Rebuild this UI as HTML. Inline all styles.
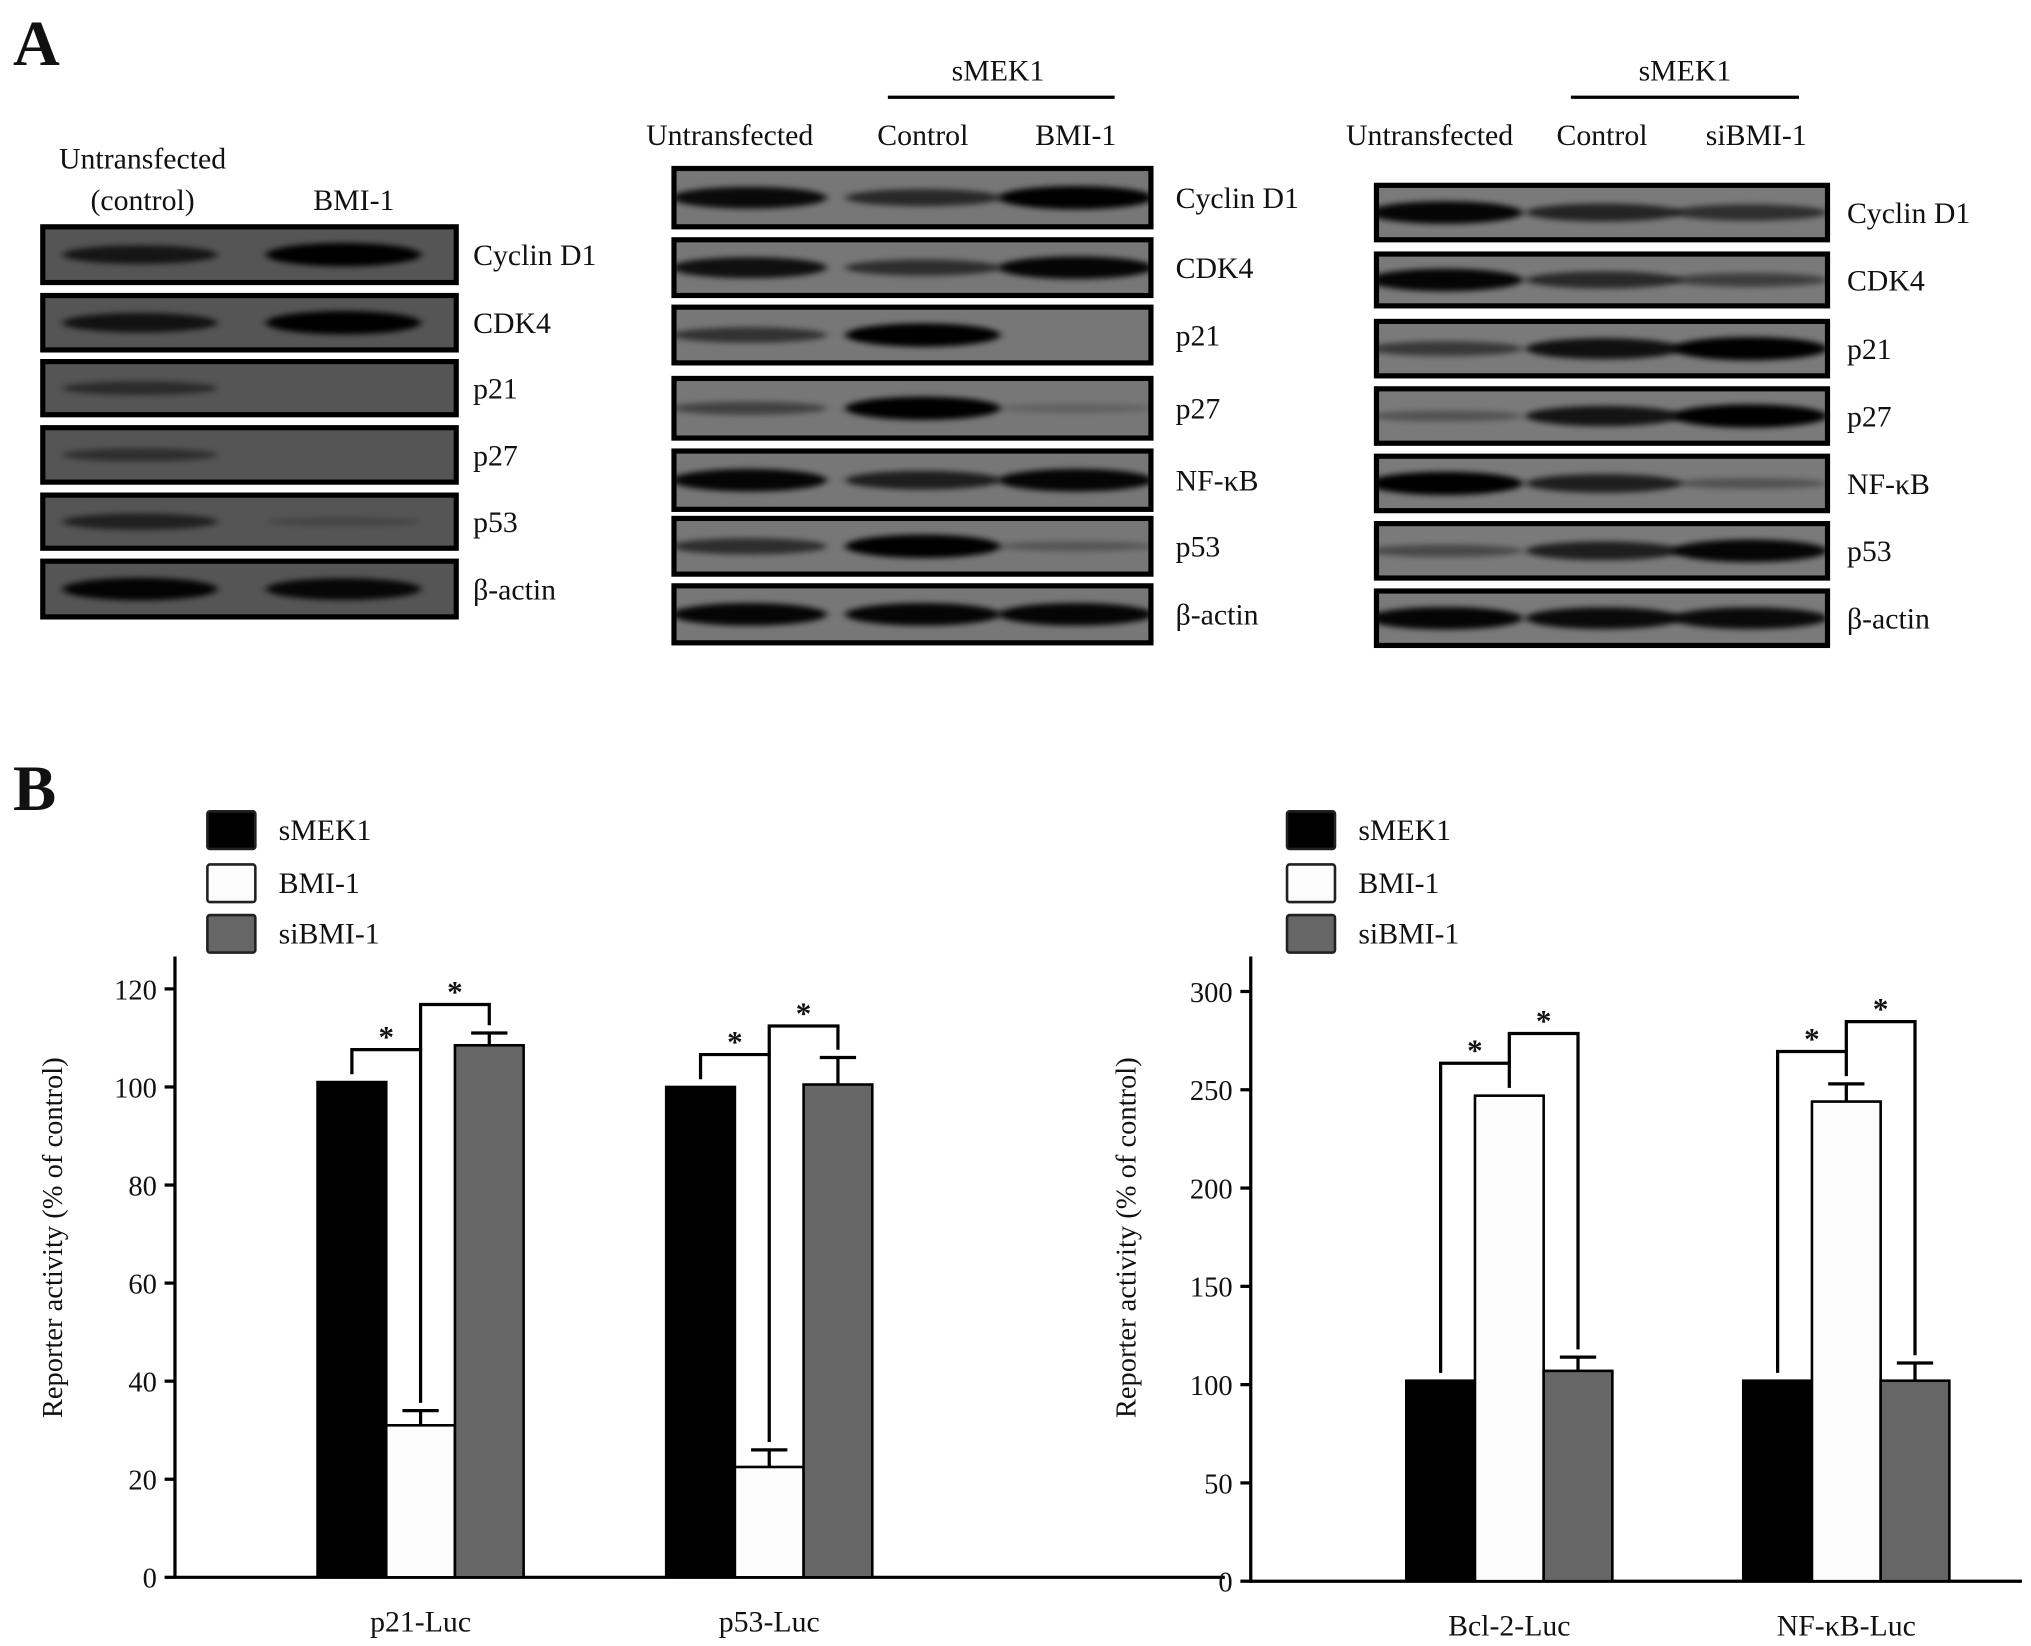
<!DOCTYPE html>
<html><head><meta charset="utf-8"><style>
html,body{margin:0;padding:0;background:#fff}
svg{display:block}
text{font-family:"Liberation Serif",serif;fill:#111}
</style></head><body>
<svg id="fig" width="2031" height="1646" viewBox="0 0 1567 1270" preserveAspectRatio="none" xmlns="http://www.w3.org/2000/svg">
<defs id="defs"><filter id="bl" x="-20%" y="-100%" width="140%" height="300%"><feGaussianBlur stdDeviation="3 2.2"/></filter></defs>
<text x="10" y="50" font-size="50" font-weight="bold">A</text>
<text x="10" y="625" font-size="50" font-weight="bold">B</text>
<g id="blots"></g>
<g id="charts"></g>
</svg>
<script>
const NS="http://www.w3.org/2000/svg";
function mk(tag,attrs,parent,txt){const e=document.createElementNS(NS,tag);for(const k in attrs)e.setAttribute(k,attrs[k]);if(txt!==undefined)e.textContent=txt;parent.appendChild(e);return e;}

// ---- Blot data ----
const blot1Rows=["Cyclin D1","CDK4","p21","p27","p53","β-actin"];
const blot1Int=[[0.7,1],[0.75,1],[0.4,0],[0.35,0],[0.55,0.05],[0.95,0.9]];
const blot2Rows=["Cyclin D1","CDK4","p21","p27","NF-κB","p53","β-actin"];
const blot2Int=[[0.9,0.6,1],[0.85,0.55,0.95],[0.5,1,0],[0.35,1,0.05],[0.95,0.7,0.95],[0.55,1,0.15],[0.95,0.95,0.95]];
const blot3Rows=["Cyclin D1","CDK4","p21","p27","NF-κB","p53","β-actin"];
const blot3Int=[[0.95,0.65,0.55],[0.95,0.6,0.4],[0.45,0.85,1],[0.2,0.8,1],[1,0.7,0.2],[0.3,0.7,0.95],[0.95,0.9,0.9]];

const blots=document.getElementById('blots');
const defs=document.getElementById('defs');
let clipN=0;
function drawBlot(name,x0,x1,rows,ints,ys,lanes,bg,lblX){
  const g=mk('g',{},blots);
  
  
  rows.forEach((r,i)=>{
    const [y0,y1]=ys[i];
    const cid='c'+(clipN++);
    const cp=mk('clipPath',{id:cid},defs);
    mk('rect',{x:x0,y:y0,width:x1-x0,height:y1-y0},cp);
    const rect=mk('rect',{x:x0,y:y0,width:x1-x0,height:y1-y0,fill:bg},g);
    
    
    const bg2=mk('g',{'clip-path':'url(#'+cid+')'},g);
    lanes.forEach((lx,j)=>{
      const v=ints[i][j]; if(v<=0)return;
      const e=mk('ellipse',{cx:lx,cy:(y0+y1)/2,rx:60,ry:3+6*v,fill:'#000',opacity:0.15+0.85*v,filter:'url(#bl)'},bg2);
      
      
    });
    mk('rect',{x:x0,y:y0,width:x1-x0,height:y1-y0,fill:'none',stroke:'#000','stroke-width':4},g);
    const t=mk('text',{x:lblX,y:(y0+y1)/2+8,'font-size':23},g,r);
    
    
  });
}
drawBlot('blot-panel-1',33,352,blot1Rows,blot1Int,[[175,218],[228,270],[279,320],[330,372],[382,423],[433,476]],[108,265],'#555',365);
drawBlot('blot-panel-2',520,888,blot2Rows,blot2Int,[[130,175],[185,228],[237,280],[292,338],[348,393],[400,443],[452,496]],[578,712,830],'#777',907);
drawBlot('blot-panel-3',1062,1410,blot3Rows,blot3Int,[[143,185],[196,236],[248,290],[300,342],[352,394],[404,446],[456,498]],[1115,1237,1350],'#7a7a7a',1425);
function lbl(x,y,s,n,anchor){const t=mk('text',{x:x,y:y,'font-size':23,'text-anchor':anchor||'middle'},blots,s);}
lbl(110,130,'Untransfected','lane-header');lbl(110,162,'(control)','lane-header');lbl(273,162,'BMI-1','lane-header');
lbl(563,112,'Untransfected','lane-header');lbl(712,112,'Control','lane-header');lbl(830,112,'BMI-1','lane-header');
lbl(770,62,'sMEK1','group-header');
lbl(1103,112,'Untransfected','lane-header');lbl(1236,112,'Control','lane-header');lbl(1355,112,'siBMI-1','lane-header');
lbl(1300,62,'sMEK1','group-header');
mk('line',{x1:685,y1:75,x2:860,y2:75,stroke:'#000','stroke-width':2.5},blots);
mk('line',{x1:1212,y1:75,x2:1388,y2:75,stroke:'#000','stroke-width':2.5},blots);

// ---- Chart data ----
const seriesNames=["sMEK1","BMI-1","siBMI-1"];
const seriesFill=["#000","#fcfcfc","#666"];
const leftCats=["p21-Luc","p53-Luc"];
const leftVals=[[101,31,108.5],[100,22.5,100.5]];
const leftErr=[[0,3,2.5],[0,3.5,5.5]];
const leftTicks=[0,20,40,60,80,100,120];
const rightCats=["Bcl-2-Luc","NF-κB-Luc"];
const rightVals=[[102,247,107],[102,244,102]];
const rightErr=[[0,0,7],[0,9,9]];
const rightTicks=[0,50,100,150,200,250,300];

const charts=document.getElementById('charts');
function drawChart(opt){
  const g=mk('g',{},charts);
  
  
  const y=v=>opt.y0-(v-0)/(opt.vmax)*(opt.y0-opt.ytop);
  seriesNames.forEach((s,i)=>{
    const ly=[626,667,706][i];
    const r=mk('rect',{x:opt.legX,y:ly,width:37,height:29,fill:seriesFill[i],stroke:'#222','stroke-width':2,rx:2},g);
    
    
    const t=mk('text',{x:opt.legX+55,y:ly+22,'font-size':23},g,s);
    
    
  });
  const ax=mk('path',{d:`M${opt.ax},${opt.yAxisTop} V${opt.y0} H${opt.axEnd}`,fill:'none',stroke:'#000','stroke-width':2.5},g);
  
  
  opt.ticks.forEach(t=>{
    mk('line',{x1:opt.ax-8,y1:y(t),x2:opt.ax,y2:y(t),stroke:'#000','stroke-width':2.5},g);
    const tt=mk('text',{x:opt.ax-14,y:y(t)+8,'font-size':22,'text-anchor':'end'},g,String(t));
    
    
  });
  const yl=mk('text',{x:0,y:0,'font-size':22,'text-anchor':'middle',transform:`translate(${opt.ylX},955) rotate(-90)`},g,'Reporter activity (% of control)');
  
  
  opt.cats.forEach((c,ci)=>{
    const gx=opt.groupX[ci], bw=opt.bw;
    const tops=[], cx=[];
    opt.vals[ci].forEach((v,si)=>{
      const bx=gx+si*bw;
      cx.push(bx+bw/2);
      const b=mk('rect',{x:bx,y:y(v),width:bw,height:opt.y0-y(v),fill:seriesFill[si],stroke:'#000','stroke-width':2},g);
      
      
      const e=opt.err[ci][si];
      if(e>0){
        mk('path',{d:`M${bx+bw/2},${y(v)} V${y(v+e)} M${bx+bw/2-14},${y(v+e)} H${bx+bw/2+14}`,stroke:'#000','stroke-width':2.5,fill:'none'},g);
      }
      tops.push(y(v+e));
    });
    const tl=mk('text',{x:cx[1],y:opt.y0+42,'font-size':23,'text-anchor':'middle'},g,c);
    
    
    const mid01=(cx[0]+cx[1])/2, mid12=(cx[1]+cx[2])/2;
    const by1=Math.min(tops[0],tops[1])-opt.gap1;
    const by2=Math.min(tops[1],tops[2],by1)-opt.gap2;
    const p1=mk('path',{d:`M${cx[0]},${tops[0]-6} V${by1} H${cx[1]} V${tops[1]-6}`,stroke:'#000','stroke-width':2.5,fill:'none'},g);
    
    
    const p2=mk('path',{d:`M${cx[1]},${by1} V${by2} H${cx[2]} V${tops[2]-6}`,stroke:'#000','stroke-width':2.5,fill:'none'},g);
    
    
    const s1=mk('text',{x:mid01,y:by1-2,'font-size':24,'font-weight':'bold','text-anchor':'middle'},g,'*');
    
    
    const s2=mk('text',{x:mid12,y:by2-2,'font-size':24,'font-weight':'bold','text-anchor':'middle'},g,'*');
    
    
  });
}
drawChart({name:'left-reporter-chart',y0:1217,ytop:763,vmax:120,ax:135,axEnd:945,yAxisTop:738,ticks:leftTicks,cats:leftCats,vals:leftVals,err:leftErr,groupX:[245,514],bw:53,legX:160,ylX:48,gap1:25,gap2:22});
drawChart({name:'right-reporter-chart',y0:1220,ytop:765,vmax:300,ax:965,axEnd:1560,yAxisTop:738,ticks:rightTicks,cats:rightCats,vals:rightVals,err:rightErr,groupX:[1085,1345],bw:53,legX:993,ylX:876,gap1:25,gap2:23});
</script>
</body></html>
